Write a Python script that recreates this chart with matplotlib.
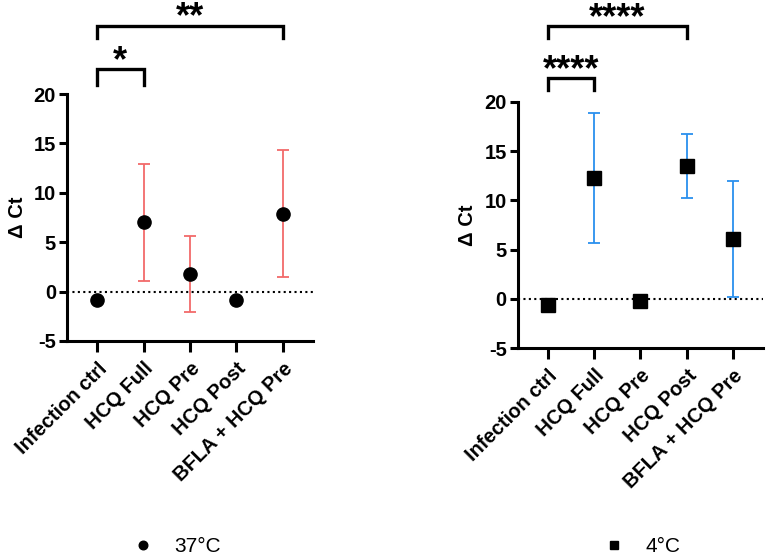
import numpy as np
import matplotlib
matplotlib.use("Agg")
import matplotlib.pyplot as plt

plt.rcParams['font.family'] = ['Liberation Sans', 'DejaVu Sans']
plt.rcParams['axes.unicode_minus'] = False

# data
groups = ["Infection ctrl", "HCQ Full", "HCQ Pre", "HCQ Post", "BFLA + HCQ Pre"]
mean_37 = [-0.8, 7.0, 1.75, -0.8, 7.9]
err_37 = [0.0, 5.9, 3.85, 0.0, 6.45]
mean_4 = [-0.6, 12.3, -0.25, 13.5, 6.05]
err_4 = [0.0, 6.6, 0.45, 3.25, 5.9]

# significance brackets: (group a, group b, label)
sig_37 = [(0, 1, "*"), (0, 4, "**")]
sig_4 = [(0, 1, "****"), (0, 3, "****")]

fig = plt.figure(figsize=(7.66, 5.57), dpi=100)
ax1 = fig.add_axes([0.0875, 0.3878, 0.321, 0.4434])
ax2 = fig.add_axes([0.676, 0.3752, 0.320, 0.4417])


def panel(ax, mean, err, color, marker, label):
    x = np.arange(len(groups))
    cont = ax.errorbar(x, mean, yerr=err, fmt=marker, color='black', ms=9.5,
                       ecolor=color, elinewidth=1.3, capsize=4, capthick=1.3,
                       label=label, zorder=3)
    ax.axhline(0, color='black', ls=(0, (1, 1.6)), lw=1.5, zorder=1)
    ax.set_xlim(-0.65, 4.65)
    ax.set_ylim(-5, 20)
    ax.set_yticks([-5, 0, 5, 10, 15, 20])
    ax.set_xticks(x)
    ax.set_xticklabels(groups, rotation=45, ha='right', rotation_mode='anchor',
                       fontsize=14.5, fontweight='bold')
    for t in ax.get_yticklabels():
        t.set_fontsize(14.5)
        t.set_fontweight('bold')
    ax.set_ylabel("Δ Ct", fontsize=14.5, fontweight='bold', labelpad=5)
    for s in ['top', 'right']:
        ax.spines[s].set_visible(False)
    for s in ['left', 'bottom']:
        ax.spines[s].set_linewidth(2.2)
    ax.tick_params(axis='x', length=8, width=2.2, pad=5)
    ax.tick_params(axis='y', length=6, width=2.2, pad=2)
    return cont


def brackets(ax, sig, levels):
    for (a, b, txt), (yb, yt, ytxt) in zip(sig, levels):
        ax.plot([a, a, b, b], [yb, yt, yt, yb], color='black', lw=2.4,
                clip_on=False, solid_joinstyle='miter')
        ax.text((a + b) / 2, ytxt, txt, ha='center', va='center',
                fontsize=26, fontweight='bold', clip_on=False)


c1 = panel(ax1, mean_37, err_37, '#F26A6A', 'o', '37°C')
c2 = panel(ax2, mean_4, err_4, '#2A90EE', 's', '4°C')

brackets(ax1, sig_37, [(20.95, 22.5, 23.3), (25.7, 26.9, 27.7)])
brackets(ax2, sig_4, [(21.2, 22.4, 23.2), (26.5, 27.7, 28.5)])

legend_font = {'family': ['Liberation Sans Narrow', 'Liberation Sans'], 'size': 15}
fig.legend(handles=[c1[0]], labels=['37°C'], loc='center',
           bbox_to_anchor=(0.232, 0.018), frameon=False, markerscale=0.65,
           handlelength=0.8, handletextpad=1.1, prop=legend_font)
fig.legend(handles=[c2[0]], labels=['4°C'], loc='center',
           bbox_to_anchor=(0.84, 0.018), frameon=False, markerscale=0.65,
           handlelength=0.8, handletextpad=1.1, prop=legend_font)

fig.savefig("out.png", dpi=100)
